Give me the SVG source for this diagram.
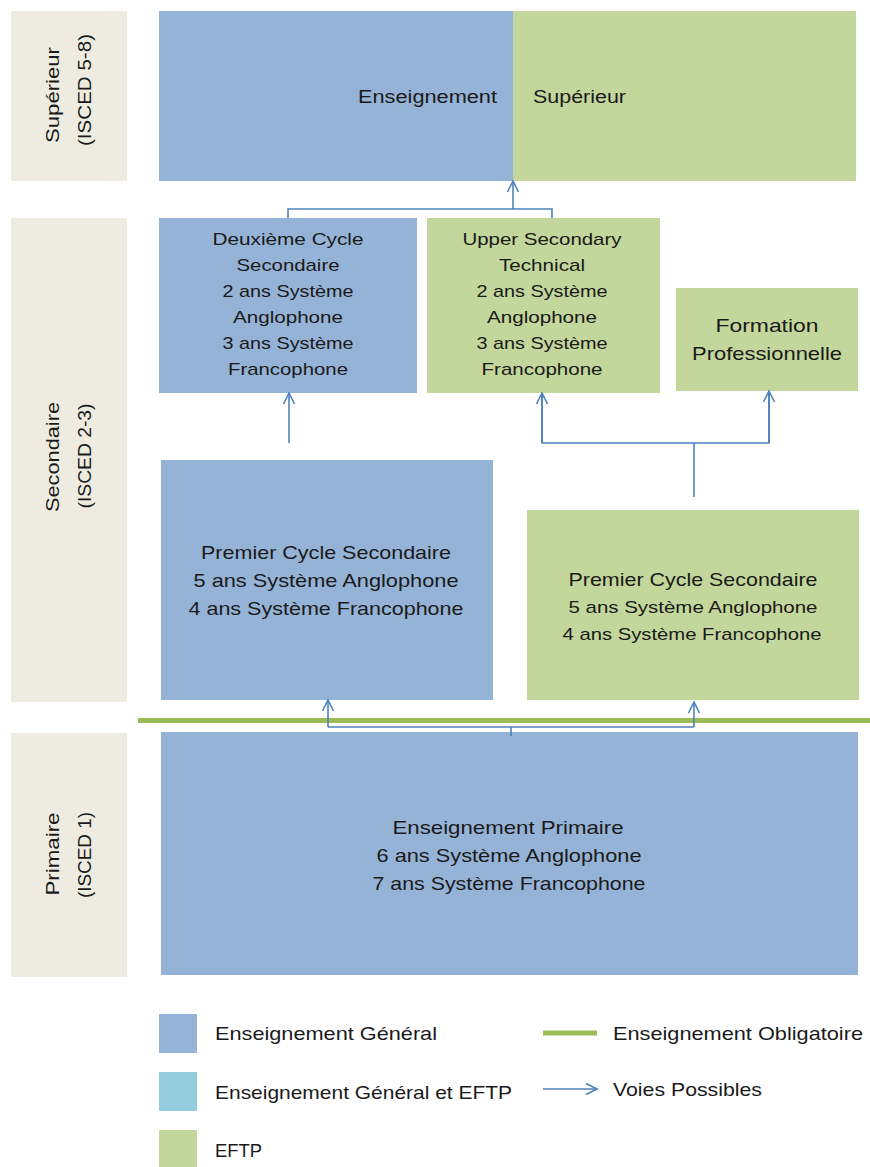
<svg xmlns="http://www.w3.org/2000/svg" width="870" height="1167" viewBox="0 0 870 1167">
<style>
.side{fill:#eeece1}
.blue{fill:#95b3d7}
.green{fill:#c3d69b}
.teal{fill:#93cddd}
text{font-family:"Liberation Sans",Arial,sans-serif;fill:#1a1a1a}
.t17{font-size:17px}
.t18{font-size:18px}
.t19{font-size:19px}
.mid{text-anchor:middle}
.conn{fill:none;stroke:#4f81bd;stroke-width:1.6}
</style>
<defs>
<marker id="arr" markerUnits="userSpaceOnUse" markerWidth="16" markerHeight="16" refX="12" refY="8" orient="auto" overflow="visible">
<path d="M1,2.5 L12,8 L1,13.5" fill="none" stroke="#4f81bd" stroke-width="1.6"/>
</marker>
</defs>
<rect width="870" height="1167" fill="#ffffff"/>

<g id="label-superieur">
<rect class="side" x="11" y="11" width="116" height="170"/>
<text class="t19 mid" transform="translate(59,95) rotate(-90)" textLength="96" lengthAdjust="spacingAndGlyphs">Supérieur</text>
<text class="t19 mid" transform="translate(91,90) rotate(-90)" textLength="112" lengthAdjust="spacingAndGlyphs">(ISCED 5-8)</text>
</g>
<g id="label-secondaire">
<rect class="side" x="11" y="218" width="116" height="484"/>
<text class="t19 mid" transform="translate(59,457) rotate(-90)" textLength="110" lengthAdjust="spacingAndGlyphs">Secondaire</text>
<text class="t19 mid" transform="translate(91,456) rotate(-90)" textLength="105" lengthAdjust="spacingAndGlyphs">(ISCED 2-3)</text>
</g>
<g id="label-primaire">
<rect class="side" x="11" y="733" width="116" height="244"/>
<text class="t19 mid" transform="translate(59,854) rotate(-90)" textLength="83" lengthAdjust="spacingAndGlyphs">Primaire</text>
<text class="t19 mid" transform="translate(91,855) rotate(-90)" textLength="86" lengthAdjust="spacingAndGlyphs">(ISCED 1)</text>
</g>

<g id="superieur">
<rect class="blue" x="159" y="11" width="354" height="170"/>
<rect class="green" x="513" y="11" width="343" height="170"/>
<text class="t18" x="497" y="103" text-anchor="end" textLength="139" lengthAdjust="spacingAndGlyphs">Enseignement</text>
<text class="t18" x="533" y="103" textLength="93" lengthAdjust="spacingAndGlyphs">Supérieur</text>
</g>

<g id="deuxieme-cycle">
<rect class="blue" x="159" y="218" width="258" height="175"/>
<text class="t17 mid" x="288" y="245" textLength="151" lengthAdjust="spacingAndGlyphs">Deuxième Cycle</text>
<text class="t17 mid" x="288" y="271" textLength="103" lengthAdjust="spacingAndGlyphs">Secondaire</text>
<text class="t17 mid" x="288" y="297" textLength="131" lengthAdjust="spacingAndGlyphs">2 ans Système</text>
<text class="t17 mid" x="288" y="323" textLength="110" lengthAdjust="spacingAndGlyphs">Anglophone</text>
<text class="t17 mid" x="288" y="349" textLength="131" lengthAdjust="spacingAndGlyphs">3 ans Système</text>
<text class="t17 mid" x="288" y="375" textLength="120" lengthAdjust="spacingAndGlyphs">Francophone</text>
</g>

<g id="upper-secondary">
<rect class="green" x="427" y="218" width="233" height="175"/>
<text class="t17 mid" x="542" y="245" textLength="159" lengthAdjust="spacingAndGlyphs">Upper Secondary</text>
<text class="t17 mid" x="542" y="271" textLength="86" lengthAdjust="spacingAndGlyphs">Technical</text>
<text class="t17 mid" x="542" y="297" textLength="131" lengthAdjust="spacingAndGlyphs">2 ans Système</text>
<text class="t17 mid" x="542" y="323" textLength="110" lengthAdjust="spacingAndGlyphs">Anglophone</text>
<text class="t17 mid" x="542" y="349" textLength="131" lengthAdjust="spacingAndGlyphs">3 ans Système</text>
<text class="t17 mid" x="542" y="375" textLength="121" lengthAdjust="spacingAndGlyphs">Francophone</text>
</g>

<g id="formation-professionnelle">
<rect class="green" x="676" y="288" width="182" height="103"/>
<text class="t19 mid" x="767" y="332" textLength="103" lengthAdjust="spacingAndGlyphs">Formation</text>
<text class="t19 mid" x="767" y="360" textLength="150" lengthAdjust="spacingAndGlyphs">Professionnelle</text>
</g>

<g id="premier-cycle-general">
<rect class="blue" x="161" y="460" width="332" height="240"/>
<text class="t19 mid" x="326" y="559" textLength="250" lengthAdjust="spacingAndGlyphs">Premier Cycle Secondaire</text>
<text class="t19 mid" x="326" y="587" textLength="265" lengthAdjust="spacingAndGlyphs">5 ans Système Anglophone</text>
<text class="t19 mid" x="326" y="615" textLength="275" lengthAdjust="spacingAndGlyphs">4 ans Système Francophone</text>
</g>

<g id="premier-cycle-eftp">
<rect class="green" x="527" y="510" width="332" height="190"/>
<text class="t19 mid" x="693" y="586" textLength="249" lengthAdjust="spacingAndGlyphs">Premier Cycle Secondaire</text>
<text class="t17 mid" x="693" y="613" textLength="249" lengthAdjust="spacingAndGlyphs">5 ans Système Anglophone</text>
<text class="t17 mid" x="692" y="640" textLength="259" lengthAdjust="spacingAndGlyphs">4 ans Système Francophone</text>
</g>

<g id="primaire">
<rect class="blue" x="161" y="732" width="697" height="243"/>
<text class="t19 mid" x="508" y="834" textLength="231" lengthAdjust="spacingAndGlyphs">Enseignement Primaire</text>
<text class="t19 mid" x="509" y="862" textLength="265" lengthAdjust="spacingAndGlyphs">6 ans Système Anglophone</text>
<text class="t19 mid" x="509" y="890" textLength="273" lengthAdjust="spacingAndGlyphs">7 ans Système Francophone</text>
</g>

<g id="obligatoire-line">
<line x1="138" y1="720.5" x2="870" y2="720.5" stroke="#9bbb59" stroke-width="5"/>
</g>

<g id="connectors">
<polyline class="conn" points="288,218 288,209 552,209 552,218"/>
<line class="conn" x1="513" y1="209" x2="513" y2="181" marker-end="url(#arr)"/>
<line class="conn" x1="289" y1="443" x2="289" y2="393" marker-end="url(#arr)"/>
<line class="conn" x1="694" y1="497" x2="694" y2="443"/>
<polyline class="conn" points="542,393 542,443 769,443 769,391"/>
<line class="conn" x1="542" y1="443" x2="542" y2="393" marker-end="url(#arr)"/>
<line class="conn" x1="769" y1="443" x2="769" y2="391" marker-end="url(#arr)"/>
<line class="conn" x1="511" y1="736" x2="511" y2="727"/>
<line class="conn" x1="328" y1="727" x2="694" y2="727"/>
<line class="conn" x1="328" y1="727" x2="328" y2="700" marker-end="url(#arr)"/>
<line class="conn" x1="694" y1="727" x2="694" y2="702" marker-end="url(#arr)"/>
</g>

<g id="legend">
<rect class="blue" x="159" y="1014" width="38" height="39"/>
<rect class="teal" x="159" y="1072" width="38" height="39"/>
<rect class="green" x="159" y="1130" width="38" height="37"/>
<text class="t19" x="215" y="1040" textLength="222" lengthAdjust="spacingAndGlyphs">Enseignement Général</text>
<text class="t19" x="215" y="1099" textLength="297" lengthAdjust="spacingAndGlyphs">Enseignement Général et EFTP</text>
<text class="t19" x="215" y="1157" textLength="47" lengthAdjust="spacingAndGlyphs">EFTP</text>
<line x1="543" y1="1033" x2="597" y2="1033" stroke="#9bbb59" stroke-width="5"/>
<line class="conn" x1="543" y1="1089" x2="597" y2="1089" marker-end="url(#arr)"/>
<text class="t19" x="613" y="1040" textLength="250" lengthAdjust="spacingAndGlyphs">Enseignement Obligatoire</text>
<text class="t19" x="613" y="1096" textLength="149" lengthAdjust="spacingAndGlyphs">Voies Possibles</text>
</g>
</svg>
